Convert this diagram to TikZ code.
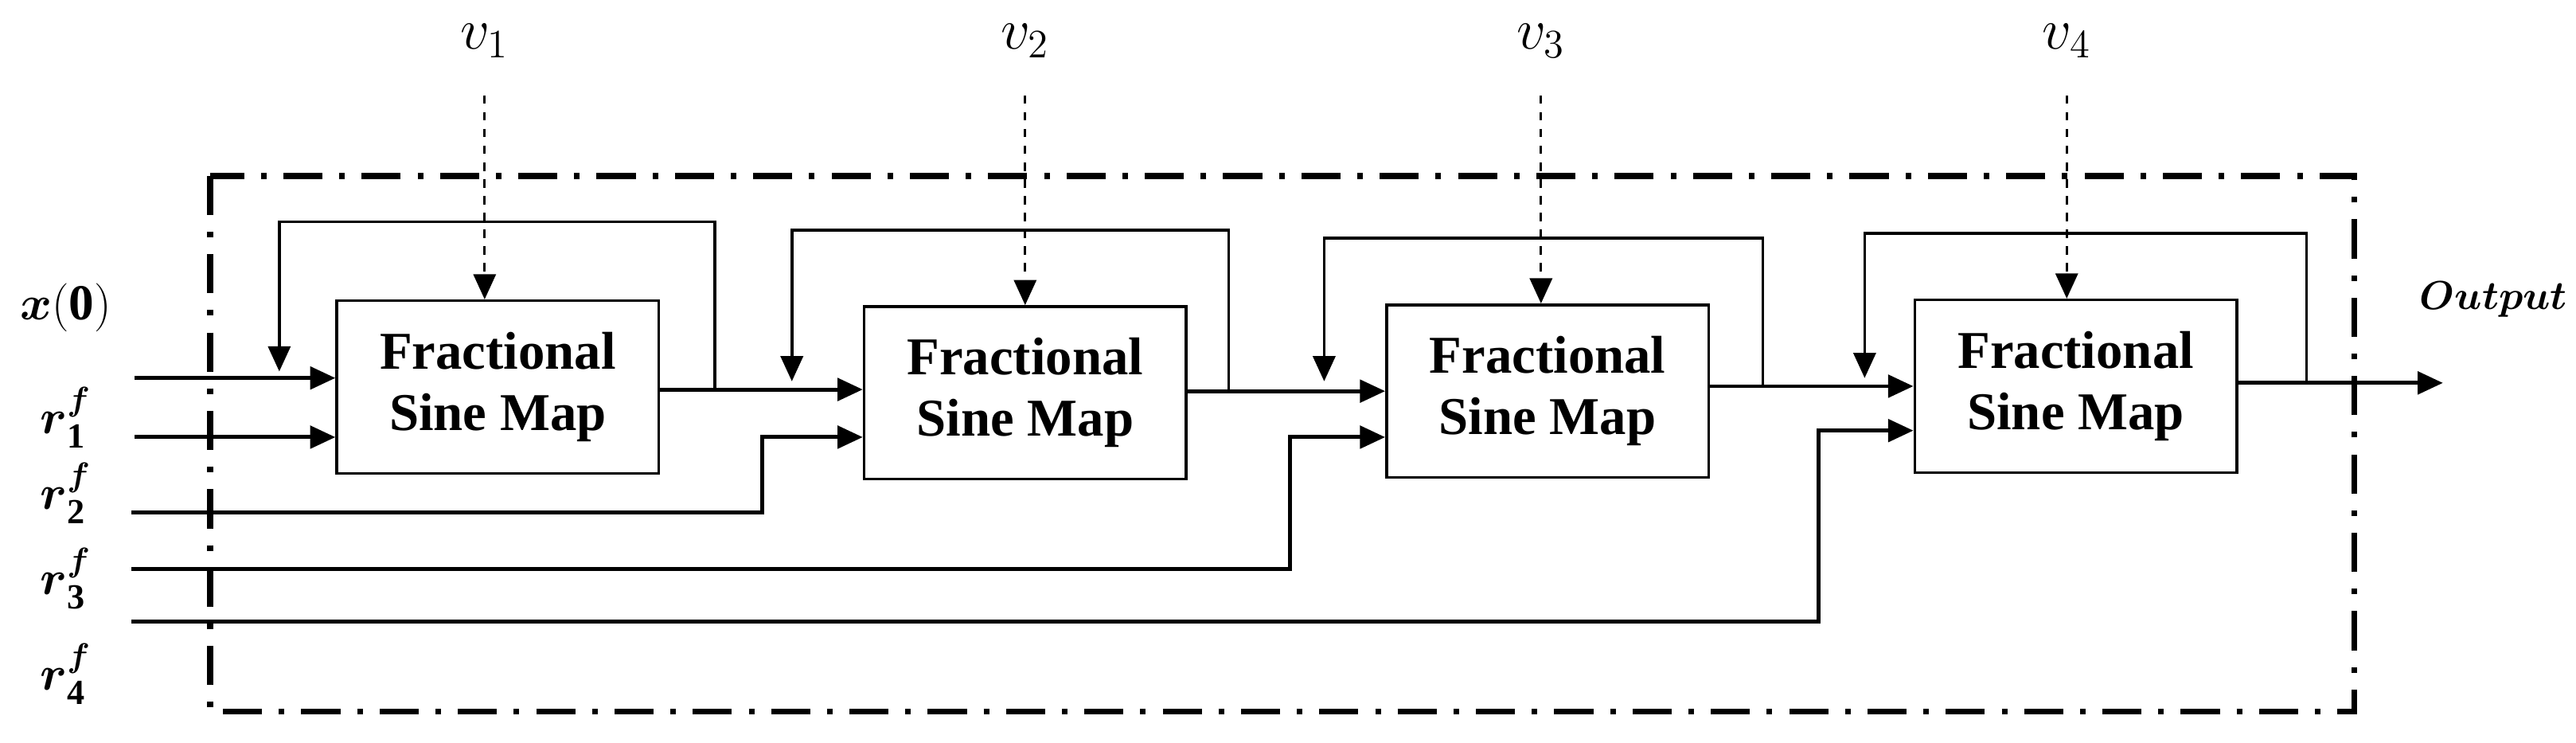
\documentclass[tikz,border=0pt]{standalone}
\usepackage{fontspec}
\setmainfont{Liberation Serif}
\usepackage{amsmath}
\usetikzlibrary{arrows.meta}
\begin{document}
\begin{tikzpicture}[x=0.02064cm,y=-0.02064cm,
  blk/.style={draw,line width=1pt,minimum width=196*0.02064cm,minimum height=105*0.02064cm,align=center,font=\fontsize{19}{22}\selectfont\bfseries,inner sep=0pt},
  ln/.style={line width=1.4pt},
  ar/.style={ln,-{Triangle[length=9pt,width=8pt]}},
  lab/.style={font=\fontsize{18}{20}\selectfont,inner sep=0pt}]
\useasboundingbox (0,0) rectangle (1568,452);
\draw[line width=2.2pt,dash pattern=on 14pt off 6pt on 2pt off 6pt] (128,107) rectangle (1433,433);
\node[blk] (b1) at (303,235.5) {Fractional\\Sine Map};
\node[blk] (b2) at (624,239) {Fractional\\Sine Map};
\node[blk] (b3) at (942,238) {Fractional\\Sine Map};
\node[blk] (b4) at (1263.5,235) {Fractional\\Sine Map};
% labels
\node[lab] (x0) at (40,187) {$\boldsymbol{x}(\mathbf{0})$};
\node[lab] (r1) at (40,254) {$\boldsymbol{r}^{\boldsymbol{f}}_{\mathbf{1}}$};
\node[lab] (r2) at (40,300) {$\boldsymbol{r}^{\boldsymbol{f}}_{\mathbf{2}}$};
\node[lab] (r3) at (40,352) {$\boldsymbol{r}^{\boldsymbol{f}}_{\mathbf{3}}$};
\node[lab] (r4) at (40,410) {$\boldsymbol{r}^{\boldsymbol{f}}_{\mathbf{4}}$};
\node[lab,anchor=east,font=\fontsize{15}{18}\selectfont] (out) at (1563,182) {$\boldsymbol{Output}$};
\foreach \i/\x in {1/295,2/624,3/938,4/1258}{
  \node[lab,font=\fontsize{21}{24}\selectfont] (v\i) at (\x,25) {$v_{\i}$};
  \coordinate (vs\i) at (\x,58);
}
\draw[dashed,-{Triangle[length=9pt,width=8pt]},line width=0.9pt] (vs1) -- (vs1 |- b1.north);
\draw[dashed,-{Triangle[length=9pt,width=8pt]},line width=0.9pt] (vs2) -- (vs2 |- b2.north);
\draw[dashed,-{Triangle[length=9pt,width=8pt]},line width=0.9pt] (vs3) -- (vs3 |- b3.north);
\draw[dashed,-{Triangle[length=9pt,width=8pt]},line width=0.9pt] (vs4) -- (vs4 |- b4.north);
% inputs
\coordinate (i0) at (82,230); \coordinate (i1) at (82,266);
\coordinate (i2) at (80,312); \coordinate (i3) at (80,346); \coordinate (i4) at (80,378);
\draw[ar] (i0) -- (i0 -| b1.west);
\draw[ar] (i1) -- (i1 -| b1.west);
\draw[ar] (i2) -- (464,312) -- (464,266) -- (b2.west |- 0,266);
\draw[ar] (i3) -- (785,346) -- (785,266) -- (b3.west |- 0,266);
\draw[ar] (i4) -- (1107,378) -- (1107,262) -- (b4.west |- 0,262);
% chain
\draw[ar] (b1.east |- 0,237) -- (b2.west |- 0,237);
\draw[ar] (b2.east |- 0,238) -- (b3.west |- 0,238);
\draw[ar] (b3.east |- 0,235) -- (b4.west |- 0,235);
\coordinate (o) at (1487,233);
\draw[ar] (b4.east |- o) -- (o);
% feedback
\draw[-{Triangle[length=9pt,width=8pt]},line width=1pt] (435,237) -- (435,135) -- (170,135) -- (170,226);
\draw[-{Triangle[length=9pt,width=8pt]},line width=1pt] (748,238) -- (748,140) -- (482,140) -- (482,232);
\draw[-{Triangle[length=9pt,width=8pt]},line width=1pt] (1073,235) -- (1073,145) -- (806,145) -- (806,232);
\draw[-{Triangle[length=9pt,width=8pt]},line width=1pt] (1404,233) -- (1404,142) -- (1135,142) -- (1135,230);
\end{tikzpicture}
\end{document}
